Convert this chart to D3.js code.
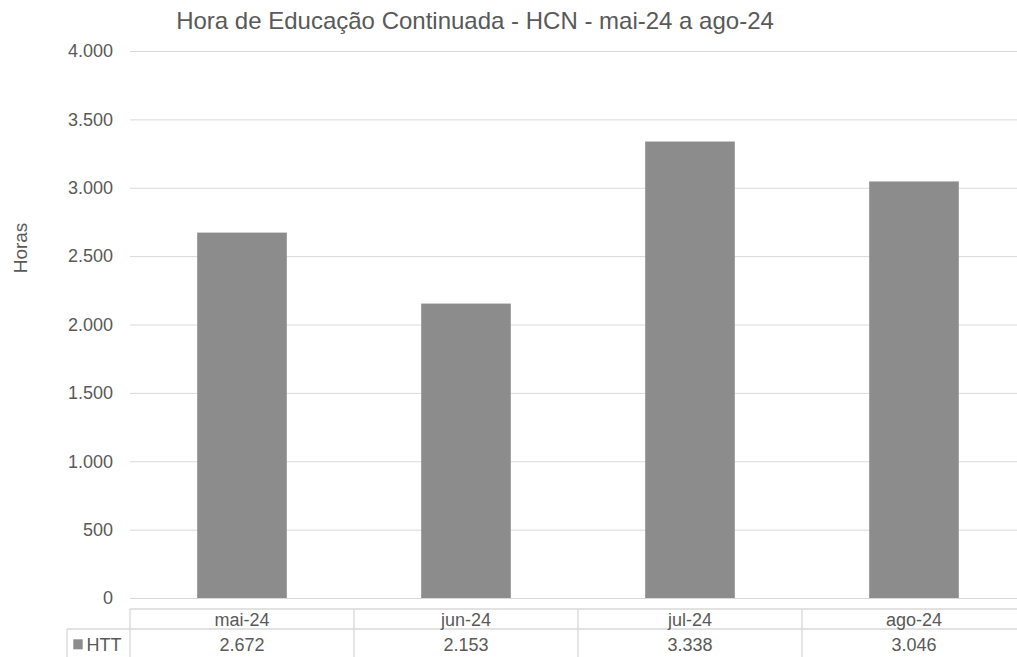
<!DOCTYPE html>
<html><head><meta charset="utf-8">
<script src="https://cdn.jsdelivr.net/npm/d3@7"></script>
<style>body{margin:0;background:#fff}svg{display:block;font-family:"Liberation Sans",Arial,sans-serif}</style>
</head><body><svg id="c" width="1017" height="657"></svg>
<script>
const categories = ["mai-24","jun-24","jul-24","ago-24"];
const seriesName = "HTT";
const values = [2672,2153,3338,3046];
const yTicks = [0,500,1000,1500,2000,2500,3000,3500,4000];
const title = "Hora de Educação Continuada - HCN - mai-24 a ago-24";
const yLabel = "Horas";

const svg = d3.select("#c");
const pLeft = 130, pRight = 1026, pTop = 51, pBottom = 598;
const tableTop = 609, rowH = 20;
const fmt = v => d3.format(",")(v).replace(/,/g,".");
const x = d3.scaleBand().domain(categories).range([pLeft,pRight]).paddingInner(0).paddingOuter(0);
const y = d3.scaleLinear().domain([0,4000]).range([pBottom,pTop]);
const textCol = "#595959", grid = "#d9d9d9", barCol = "#8c8c8c";

// gridlines
svg.append("g").selectAll("line").data(yTicks).join("line")
  .attr("x1",pLeft).attr("x2",pRight).attr("y1",d=>y(d)+0.5).attr("y2",d=>y(d)+0.5)
  .attr("stroke",grid).attr("stroke-width",1);
// y tick labels
svg.append("g").selectAll("text").data(yTicks).join("text")
  .attr("x",113).attr("y",d=>y(d)).attr("dy","0.35em").attr("text-anchor","end")
  .attr("fill",textCol).attr("font-size",18).text(fmt);
// bars
const bw = x.bandwidth()*0.4;
svg.append("g").selectAll("rect").data(values).join("rect")
  .attr("x",(d,i)=>x(categories[i])+(x.bandwidth()-bw)/2).attr("width",bw)
  .attr("y",d=>y(d)).attr("height",d=>y(0)-y(d)).attr("fill",barCol);
// title
svg.append("text").attr("x",475).attr("y",29).attr("text-anchor","middle")
  .attr("fill",textCol).attr("font-size",24).text(title);
// y label
svg.append("text").attr("transform","translate(26.5,248) rotate(-90)").attr("text-anchor","middle")
  .attr("fill",textCol).attr("font-size",19).text(yLabel);
// data table
const t = svg.append("g").attr("stroke",grid).attr("stroke-width",1.3).attr("fill","none");
t.append("line").attr("x1",pLeft).attr("x2",pRight).attr("y1",tableTop).attr("y2",tableTop);
t.append("line").attr("x1",67).attr("x2",pRight).attr("y1",tableTop+rowH).attr("y2",tableTop+rowH);
t.append("line").attr("x1",67).attr("x2",67).attr("y1",tableTop+rowH).attr("y2",657);
t.selectAll("line.v").data(categories.concat(["_end"])).join("line").attr("class","v")
  .attr("x1",(d,i)=>pLeft+i*x.bandwidth()).attr("x2",(d,i)=>pLeft+i*x.bandwidth())
  .attr("y1",tableTop).attr("y2",657);
svg.append("g").selectAll("text").data(categories).join("text")
  .attr("x",d=>x(d)+x.bandwidth()/2).attr("y",626)
  .attr("text-anchor","middle").attr("fill",textCol).attr("font-size",18).text(d=>d);
svg.append("g").selectAll("text").data(values).join("text")
  .attr("x",(d,i)=>x(categories[i])+x.bandwidth()/2).attr("y",650.5)
  .attr("text-anchor","middle").attr("fill",textCol).attr("font-size",18).text(fmt);
svg.append("rect").attr("x",73.3).attr("y",639.3).attr("width",9.4).attr("height",10).attr("fill",barCol);
svg.append("text").attr("x",86.5).attr("y",650.5)
  .attr("fill",textCol).attr("font-size",18).text(seriesName);
</script></body></html>
